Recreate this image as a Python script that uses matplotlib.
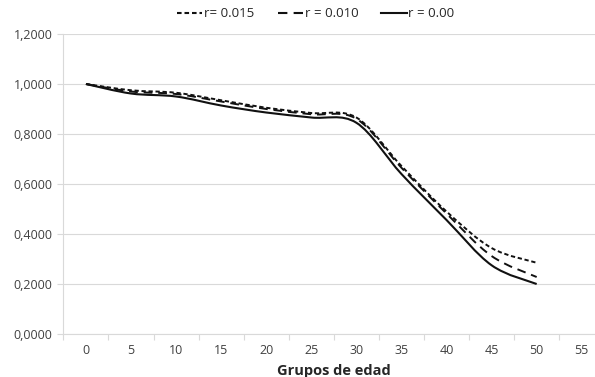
import numpy as np
import matplotlib
matplotlib.use('Agg')
import matplotlib.pyplot as plt
from matplotlib.path import Path
from matplotlib.patches import PathPatch
from matplotlib.lines import Line2D
from matplotlib.ticker import FuncFormatter

plt.rcParams['font.family'] = ['Open Sans', 'DejaVu Sans']

# age groups (categorical x axis)
grupos = ['0', '5', '10', '15', '20', '25', '30', '35', '40', '45', '50', '55']

# survival ratios (no value for 55)
r015 = [1.0, 0.975, 0.965, 0.935, 0.905, 0.884, 0.866, 0.672, 0.490, 0.344, 0.285]
r010 = [1.0, 0.970, 0.960, 0.930, 0.900, 0.879, 0.861, 0.665, 0.482, 0.312, 0.228]
r000 = [1.0, 0.962, 0.950, 0.914, 0.886, 0.866, 0.845, 0.640, 0.456, 0.275, 0.200]

labels = ['r= 0.015', 'r = 0.010', 'r = 0.00']
styles = [(0, (2.2, 1.4)), (0, (4.5, 3.0)), '-']


# excel style smoothed line: catmull-rom segments as cubic beziers
def smooth_path(x, y):
    x = np.asarray(x, float)
    y = np.asarray(y, float)
    verts = [(x[0], y[0])]
    codes = [Path.MOVETO]
    n = len(x)
    for i in range(n - 1):
        p0 = (x[max(i - 1, 0)], y[max(i - 1, 0)])
        p1 = (x[i], y[i])
        p2 = (x[i + 1], y[i + 1])
        p3 = (x[min(i + 2, n - 1)], y[min(i + 2, n - 1)])
        c1 = (p1[0] + (p2[0] - p0[0]) / 6, p1[1] + (p2[1] - p0[1]) / 6)
        c2 = (p2[0] - (p3[0] - p1[0]) / 6, p2[1] - (p3[1] - p1[1]) / 6)
        verts += [c1, c2, p2]
        codes += [Path.CURVE4] * 3
    return Path(verts, codes)


fig = plt.figure(figsize=(5.95, 3.77), dpi=100)
ax = fig.add_axes([0.1066, 0.114, 0.909, 0.7958])

grid_c = '#d9d9d9'
handles = []
for serie, ls, lab in zip([r015, r010, r000], styles, labels):
    xs = np.arange(len(serie))
    patch = PathPatch(smooth_path(xs, serie), facecolor='none', edgecolor='#111111',
                      lw=1.5 if ls == '-' else 1.4, linestyle=ls, capstyle='butt')
    ax.add_patch(patch)
    handles.append(Line2D([], [], color='#111111', lw=1.5, linestyle=ls))

ax.set_xlim(-0.5, len(grupos) - 0.5)
ax.set_ylim(0, 1.2)
ax.set_yticks(np.arange(0, 1.21, 0.2))
ax.yaxis.set_major_formatter(FuncFormatter(lambda v, p: ('%.4f' % v).replace('.', ',')))
ax.set_xticks(np.arange(len(grupos)))
ax.set_xticklabels(grupos)
ax.set_xticks(np.arange(-0.5, len(grupos), 1), minor=True)
ax.tick_params(axis='x', which='major', length=0, pad=7, labelsize=9, labelcolor='#404040')
ax.tick_params(axis='x', which='minor', length=4, color=grid_c, width=0.8)
ax.tick_params(axis='y', length=4, color=grid_c, width=0.8, pad=4, labelsize=9, labelcolor='#404040')

ax.grid(axis='y', color=grid_c, lw=0.8)
ax.set_axisbelow(True)
for s in ['top', 'right']:
    ax.spines[s].set_visible(False)
for s in ['left', 'bottom']:
    ax.spines[s].set_color(grid_c)
    ax.spines[s].set_linewidth(0.8)

ax.set_xlabel('Grupos de edad', fontsize=10.5, fontweight='bold', color='#262626', labelpad=5)

fig.legend(handles, labels, loc='upper center', bbox_to_anchor=(0.531, 1.012), ncol=3,
           frameon=False, fontsize=9.5, handlelength=1.9, handletextpad=0.15, columnspacing=1.75,
           labelcolor='#262626')

fig.savefig('out.png', dpi=100)
